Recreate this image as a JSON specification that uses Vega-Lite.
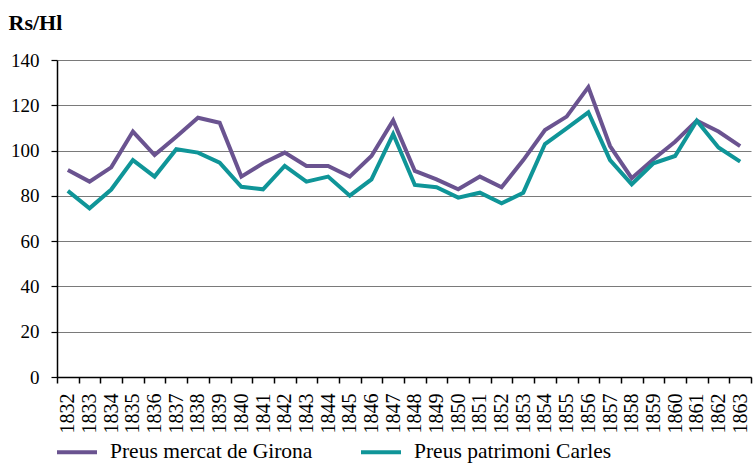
{
  "$schema": "https://vega.github.io/schema/vega-lite/v6.json",
  "autosize": "none",
  "width": 694,
  "height": 317,
  "padding": {"left": 57, "top": 60, "right": 2, "bottom": 88},
  "background": "white",
  "config": {
    "font": "Liberation Serif, DejaVu Serif, serif",
    "view": {"stroke": null}
  },
  "data": {
    "values": [
      {"year": "1832", "series": "Preus mercat de Girona", "price": 91.4},
      {"year": "1833", "series": "Preus mercat de Girona", "price": 86.3},
      {"year": "1834", "series": "Preus mercat de Girona", "price": 92.6},
      {"year": "1835", "series": "Preus mercat de Girona", "price": 108.4},
      {"year": "1836", "series": "Preus mercat de Girona", "price": 98},
      {"year": "1837", "series": "Preus mercat de Girona", "price": 106.1},
      {"year": "1838", "series": "Preus mercat de Girona", "price": 114.5},
      {"year": "1839", "series": "Preus mercat de Girona", "price": 112.3},
      {"year": "1840", "series": "Preus mercat de Girona", "price": 88.5},
      {"year": "1841", "series": "Preus mercat de Girona", "price": 94.4},
      {"year": "1842", "series": "Preus mercat de Girona", "price": 99.1},
      {"year": "1843", "series": "Preus mercat de Girona", "price": 93.2},
      {"year": "1844", "series": "Preus mercat de Girona", "price": 93.2},
      {"year": "1845", "series": "Preus mercat de Girona", "price": 88.5},
      {"year": "1846", "series": "Preus mercat de Girona", "price": 97.6},
      {"year": "1847", "series": "Preus mercat de Girona", "price": 113.3},
      {"year": "1848", "series": "Preus mercat de Girona", "price": 91},
      {"year": "1849", "series": "Preus mercat de Girona", "price": 87.3},
      {"year": "1850", "series": "Preus mercat de Girona", "price": 82.9},
      {"year": "1851", "series": "Preus mercat de Girona", "price": 88.5},
      {"year": "1852", "series": "Preus mercat de Girona", "price": 83.8},
      {"year": "1853", "series": "Preus mercat de Girona", "price": 95.8},
      {"year": "1854", "series": "Preus mercat de Girona", "price": 109.1},
      {"year": "1855", "series": "Preus mercat de Girona", "price": 115},
      {"year": "1856", "series": "Preus mercat de Girona", "price": 128},
      {"year": "1857", "series": "Preus mercat de Girona", "price": 102},
      {"year": "1858", "series": "Preus mercat de Girona", "price": 87.8},
      {"year": "1859", "series": "Preus mercat de Girona", "price": 96.2},
      {"year": "1860", "series": "Preus mercat de Girona", "price": 103.9},
      {"year": "1861", "series": "Preus mercat de Girona", "price": 113.2},
      {"year": "1862", "series": "Preus mercat de Girona", "price": 108.4},
      {"year": "1863", "series": "Preus mercat de Girona", "price": 102},
      {"year": "1832", "series": "Preus patrimoni Carles", "price": 82.2},
      {"year": "1833", "series": "Preus patrimoni Carles", "price": 74.5},
      {"year": "1834", "series": "Preus patrimoni Carles", "price": 82.8},
      {"year": "1835", "series": "Preus patrimoni Carles", "price": 95.8},
      {"year": "1836", "series": "Preus patrimoni Carles", "price": 88.5},
      {"year": "1837", "series": "Preus patrimoni Carles", "price": 100.6},
      {"year": "1838", "series": "Preus patrimoni Carles", "price": 99.1},
      {"year": "1839", "series": "Preus patrimoni Carles", "price": 94.7},
      {"year": "1840", "series": "Preus patrimoni Carles", "price": 84},
      {"year": "1841", "series": "Preus patrimoni Carles", "price": 82.9},
      {"year": "1842", "series": "Preus patrimoni Carles", "price": 93.2},
      {"year": "1843", "series": "Preus patrimoni Carles", "price": 86.3},
      {"year": "1844", "series": "Preus patrimoni Carles", "price": 88.5},
      {"year": "1845", "series": "Preus patrimoni Carles", "price": 80.1},
      {"year": "1846", "series": "Preus patrimoni Carles", "price": 87.3},
      {"year": "1847", "series": "Preus patrimoni Carles", "price": 107.3},
      {"year": "1848", "series": "Preus patrimoni Carles", "price": 84.8},
      {"year": "1849", "series": "Preus patrimoni Carles", "price": 83.8},
      {"year": "1850", "series": "Preus patrimoni Carles", "price": 79.2},
      {"year": "1851", "series": "Preus patrimoni Carles", "price": 81.4},
      {"year": "1852", "series": "Preus patrimoni Carles", "price": 76.7},
      {"year": "1853", "series": "Preus patrimoni Carles", "price": 81.4},
      {"year": "1854", "series": "Preus patrimoni Carles", "price": 102.9},
      {"year": "1855", "series": "Preus patrimoni Carles", "price": 109.8},
      {"year": "1856", "series": "Preus patrimoni Carles", "price": 116.9},
      {"year": "1857", "series": "Preus patrimoni Carles", "price": 95.8},
      {"year": "1858", "series": "Preus patrimoni Carles", "price": 85.1},
      {"year": "1859", "series": "Preus patrimoni Carles", "price": 94.4},
      {"year": "1860", "series": "Preus patrimoni Carles", "price": 97.6},
      {"year": "1861", "series": "Preus patrimoni Carles", "price": 113.2},
      {"year": "1862", "series": "Preus patrimoni Carles", "price": 101.4},
      {"year": "1863", "series": "Preus patrimoni Carles", "price": 95.1}
    ]
  },
  "mark": {"type": "line", "strokeWidth": 4, "strokeJoin": "miter"},
  "encoding": {
    "x": {
      "field": "year",
      "type": "ordinal",
      "scale": {"type": "band", "paddingInner": 0, "paddingOuter": 0},
      "axis": {
        "title": null,
        "labelAngle": -90,
        "labelFontSize": 20,
        "labelColor": "#000",
        "labelPadding": 10,
        "labelBaseline": "middle",
        "tickBand": "extent",
        "tickColor": "#000",
        "tickSize": 6,
        "tickWidth": 1.5,
        "domainColor": "#000",
        "domainWidth": 1.5,
        "grid": false
      }
    },
    "y": {
      "field": "price",
      "type": "quantitative",
      "scale": {"domain": [0, 140], "nice": false},
      "axis": {
        "values": [0, 20, 40, 60, 80, 100, 120, 140],
        "title": "Rs/Hl",
        "titleAngle": 0,
        "titleAlign": "left",
        "titleBaseline": "alphabetic",
        "titleX": -49,
        "titleY": -31,
        "titleFontSize": 22,
        "titleFontWeight": "bold",
        "titleColor": "#000",
        "labelFontSize": 19,
        "labelColor": "#000",
        "labelPadding": 12,
        "tickColor": "#000",
        "tickSize": 6,
        "tickWidth": 1.2,
        "domainColor": "#000",
        "domainWidth": 1.5,
        "grid": true,
        "gridColor": "#7a7a7a",
        "gridWidth": 1.2
      }
    },
    "color": {
      "field": "series",
      "type": "nominal",
      "scale": {
        "domain": ["Preus mercat de Girona", "Preus patrimoni Carles"],
        "range": ["#6a5390", "#0f9598"]
      },
      "legend": {
        "title": null,
        "orient": "none",
        "direction": "horizontal",
        "legendX": -2,
        "legendY": 370,
        "symbolType": "stroke",
        "symbolSize": 1600,
        "symbolStrokeWidth": 4,
        "labelFontSize": 21.5,
        "labelLimit": 400,
        "labelColor": "#000",
        "labelOffset": 11,
        "columnPadding": 40
      }
    }
  }
}
